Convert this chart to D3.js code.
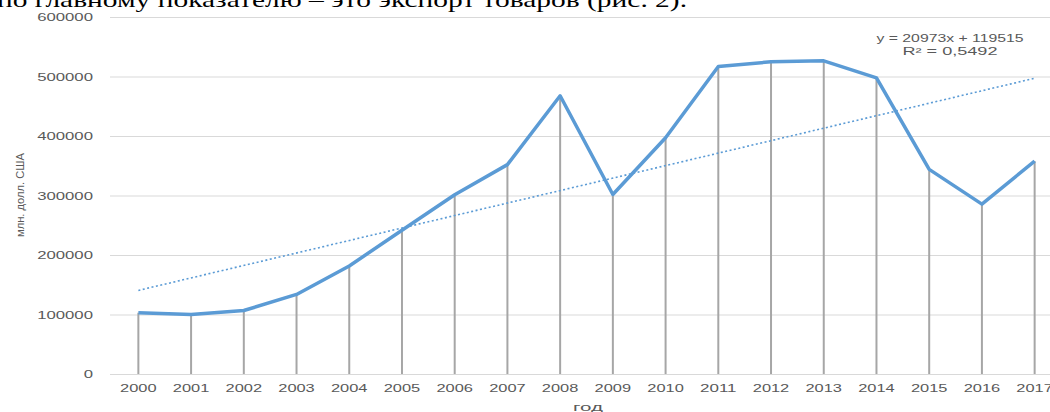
<!DOCTYPE html>
<html>
<head>
<meta charset="utf-8">
<script src="https://cdn.jsdelivr.net/npm/d3@7"></script>
<style>
  body { margin: 0; background: #fff; overflow: hidden; }
  svg { display: block; }
</style>
</head>
<body>
<div id="chart"></div>
<script>
// данные (млн. долл. США)
const years = ['2000', '2001', '2002', '2003', '2004', '2005', '2006', '2007', '2008',
  '2009', '2010', '2011', '2012', '2013', '2014', '2015', '2016', '2017'];
const exportValues = [103000, 100000, 106700, 133700, 181600, 241500, 301200, 351900, 467600,
  301700, 397100, 516700, 524800, 526400, 497800, 343900, 285500, 357800];
const yTicks = [0, 100000, 200000, 300000, 400000, 500000, 600000];
// линейный тренд, как подписан на графике
const trendSlope = 20973;
const trendIntercept = 119515;

const width = 1050;
const height = 412;

const svg = d3.select('#chart').append('svg')
  .attr('width', width)
  .attr('height', height);

const x = d3.scaleBand()
  .domain(years)
  .range([112, 1061])
  .padding(0);

const y = d3.scaleLinear()
  .domain([0, 600000])
  .range([374, 17]);

const cx = d => x(d) + x.bandwidth() / 2;

// растянутый текст (картинка растянута по горизонтали)
function stretchedText(g, str, px, py, len, size, anchor) {
  return g.append('text')
    .attr('x', px)
    .attr('y', py)
    .attr('text-anchor', anchor || 'start')
    .attr('font-size', size)
    .attr('textLength', len)
    .attr('lengthAdjust', 'spacingAndGlyphs')
    .text(str);
}

// строка текста документа сверху (обрезана)
const docLine = svg.append('g')
  .attr('font-family', '"Liberation Serif", "Times New Roman", serif')
  .attr('fill', '#000');
stretchedText(docLine, 'по главному показателю – это экспорт товаров (рис. 2).', -3, 7, 690, 22);

// сетка
svg.append('g')
  .selectAll('line')
  .data(yTicks)
  .enter().append('line')
  .attr('x1', 110)
  .attr('x2', width)
  .attr('y1', d => y(d) + 0.5)
  .attr('y2', d => y(d) + 0.5)
  .attr('stroke', '#d9d9d9')
  .attr('stroke-width', 1);

// подписи оси Y
const yLabels = svg.append('g')
  .attr('font-family', '"Liberation Sans", Arial, sans-serif')
  .attr('fill', '#595959');
yTicks.forEach(t => {
  const s = String(t);
  stretchedText(yLabels, s, 93, y(t) + 4, s.length * 9.3, 11, 'end');
});

// подписи оси X
const xLabels = svg.append('g')
  .attr('font-family', '"Liberation Sans", Arial, sans-serif')
  .attr('fill', '#595959');
years.forEach(yr => {
  stretchedText(xLabels, yr, cx(yr), 392, 36.5, 11, 'middle');
});

// названия осей
const titles = svg.append('g')
  .attr('font-family', '"Liberation Sans", Arial, sans-serif')
  .attr('fill', '#595959');
stretchedText(titles, 'год', 588, 411, 30, 11, 'middle');
stretchedText(titles, 'млн. долл. США', 0, 0, 84, 11, 'middle')
  .attr('transform', 'translate(24,195) rotate(-90)');

// линии проекции
svg.append('g')
  .selectAll('line')
  .data(years)
  .enter().append('line')
  .attr('x1', d => cx(d))
  .attr('x2', d => cx(d))
  .attr('y1', (d, i) => y(exportValues[i]))
  .attr('y2', y(0))
  .attr('stroke', '#a6a6a6')
  .attr('stroke-width', 2);

// линия тренда
const trendData = [
  { year: years[0], value: trendSlope * 1 + trendIntercept },
  { year: years[years.length - 1], value: trendSlope * years.length + trendIntercept }
];
svg.append('path')
  .datum(trendData)
  .attr('fill', 'none')
  .attr('stroke', '#5b9bd5')
  .attr('stroke-width', 1.6)
  .attr('stroke-dasharray', '2,2.5')
  .attr('d', d3.line().x(d => cx(d.year)).y(d => y(d.value)));

// основная линия
svg.append('path')
  .datum(exportValues)
  .attr('fill', 'none')
  .attr('stroke', '#5b9bd5')
  .attr('stroke-width', 3.5)
  .attr('stroke-linejoin', 'round')
  .attr('d', d3.line().x((d, i) => cx(years[i])).y(d => y(d)));

// уравнение тренда
const eq = svg.append('g')
  .attr('font-family', '"Liberation Sans", Arial, sans-serif')
  .attr('fill', '#595959');
stretchedText(eq, 'y = ' + trendSlope + 'x + ' + trendIntercept, 950, 42, 147, 10, 'middle');
stretchedText(eq, 'R² = 0,5492', 950, 55, 95, 10, 'middle');
</script>
</body>
</html>
